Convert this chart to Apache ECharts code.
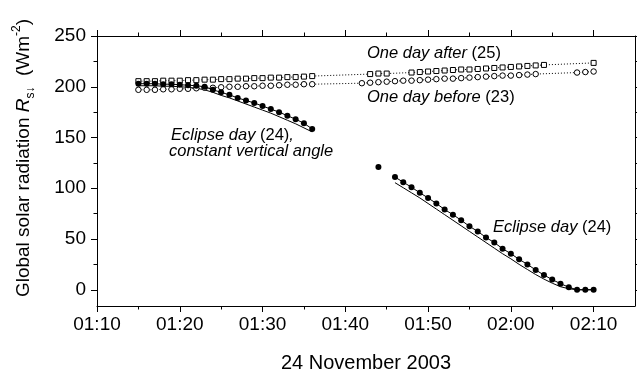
<!DOCTYPE html>
<html><head><meta charset="utf-8">
<script src="https://cdn.jsdelivr.net/npm/echarts@6/dist/echarts.min.js"></script>
<style>html,body{margin:0;padding:0;background:#fff}#c{width:637px;height:376px}</style>
</head><body><div id="c"></div>
<script>
// ---- tick labels ----
const xTickLabels = ['01:10','01:20','01:30','01:40','01:50','02:00','02:10'];
const xMinorTickLabels = ['01:15','01:25','01:35','01:45','01:55','02:05'];
const yTickValues = [0, 50, 100, 150, 200, 250];
const yMinorTickValues = [25, 75, 125, 175, 225];

// ---- Eclipse day (24), measured ----
const eclipseTimesA = ['01:15','01:16','01:17','01:18','01:19','01:20','01:21','01:22','01:23','01:24','01:25','01:26','01:27','01:28','01:29','01:30','01:31','01:32','01:33','01:34','01:35','01:36'];
const eclipseValuesA = [203, 203, 203, 202.5, 202.5, 202, 201.5, 201, 200, 197, 194.5, 192, 189, 186.5, 184, 181, 178, 175, 171.5, 168, 164, 158.5];
const eclipseTimesB = ['01:44'];
const eclipseValuesB = [121];
const eclipseTimesC = ['01:46','01:47','01:48','01:49','01:50','01:51','01:52','01:53','01:54','01:55','01:56','01:57','01:58','01:59','02:00','02:01','02:02','02:03','02:04','02:05','02:06','02:07','02:08','02:09','02:10'];
const eclipseValuesC = [111, 106, 101, 95.5, 90.5, 85, 79, 74, 68.5, 62.5, 57.5, 51.5, 46.5, 40.5, 35.5, 30, 25, 19.5, 14.5, 10, 6, 2.5, 0, 0, 0];

// ---- Model lines (solid) ----
const modelTimesA = eclipseTimesA;
const modelValuesA = [201, 201, 201, 200.5, 200.5, 200, 199.5, 198.5, 197, 194.5, 191.5, 189, 186, 183, 180, 177, 174, 170.5, 167, 163.5, 159.5, 155.5];
const modelTimesC = eclipseTimesC;
const modelValuesC = [105.5, 100.5, 95.5, 90.5, 85, 79.5, 74, 68.5, 63, 57.5, 52, 46.5, 41, 35.5, 30.5, 25, 20, 15, 10.5, 6.5, 3, 1, 0, 0, 0];

// ---- One day before (23) ----
const beforeTimes = ['01:15','01:16','01:17','01:18','01:19','01:20','01:21','01:22','01:23','01:24','01:25','01:26','01:27','01:28','01:29','01:30','01:31','01:32','01:33','01:34','01:35','01:36',
  '01:42','01:43','01:44','01:45','01:46','01:47','01:48','01:49','01:50','01:51','01:52','01:53','01:54','01:55','01:56','01:57','01:58','01:59','02:00','02:01','02:02','02:03',
  '02:08','02:09','02:10'];
const beforeValues = [197, 197, 197, 197.5, 197.5, 198, 198, 198.5, 199, 199, 199.5, 200, 200, 200.5, 200.5, 201, 201, 201.5, 202, 202, 202.5, 202.5,
  203.5, 204, 204.5, 205, 205.5, 206, 206, 206.5, 207, 207.5, 208, 208, 208.5, 209, 209.5, 210, 210.5, 211, 211, 211.5, 212, 212.5,
  214, 214.5, 215];

// ---- One day after (25) ----
const afterTimes = ['01:15','01:16','01:17','01:18','01:19','01:20','01:21','01:22','01:23','01:24','01:25','01:26','01:27','01:28','01:29','01:30','01:31','01:32','01:33','01:34','01:35','01:36',
  '01:43','01:44','01:45',
  '01:48','01:49','01:50','01:51','01:52','01:53','01:54','01:55','01:56','01:57','01:58','01:59','02:00','02:01','02:02','02:03','02:04',
  '02:10'];
const afterValues = [205.5, 205.5, 205.5, 206, 206, 206, 206.5, 206.5, 207, 207, 207.5, 207.5, 208, 208, 208.5, 208.5, 209, 209, 209.5, 209.5, 210, 210.5,
  212.5, 213, 213,
  214, 214.5, 215, 215.5, 216, 216.5, 217, 217, 217.5, 218, 218.5, 219, 219.5, 220, 220.5, 221, 221.5,
  223.5];

// ---- helpers ----
function toMin(s){ const p = s.split(':'); return Number(p[0]) * 60 + Number(p[1]); }
function pairs(times, vals){ return times.map((t, i) => [toMin(t), vals[i]]); }
const labelByMin = {};
xTickLabels.forEach(l => { labelByMin[toMin(l)] = l; });
const xMajor = xTickLabels.map(toMin);
const xMinor = xMinorTickLabels.map(toMin);

const F = '"Liberation Sans", Arial, Helvetica, sans-serif';
const BLACK = '#000';
const X_MIN = 70, X_MAX = 135, Y_MIN = -16, Y_MAX = 250;

function xAx(pos, major, withLabels){
  return {
    type: 'value', position: pos, min: X_MIN, max: X_MAX,
    axisLine: { show: major, onZero: false, lineStyle: { color: BLACK, width: 1 } },
    axisTick: { show: true, inside: false, length: major ? 6 : 3.5, customValues: major ? xMajor : xMinor, lineStyle: { color: BLACK, width: 1 } },
    axisLabel: withLabels ? { show: true, customValues: xMajor, formatter: v => labelByMin[v] || '', fontSize: 19, color: BLACK, fontFamily: F, margin: 9 } : { show: false },
    splitLine: { show: false }
  };
}
function yAx(pos, major, withLabels){
  return {
    type: 'value', position: pos, min: Y_MIN, max: Y_MAX,
    axisLine: { show: major, onZero: false, lineStyle: { color: BLACK, width: 1 } },
    axisTick: { show: true, inside: false, length: major ? 6 : 3.5, customValues: major ? yTickValues : yMinorTickValues, lineStyle: { color: BLACK, width: 1 } },
    axisLabel: withLabels ? { show: true, customValues: yTickValues, fontSize: 19, color: BLACK, fontFamily: F, margin: 11 } : { show: false },
    splitLine: { show: false }
  };
}

const chart = echarts.init(document.getElementById('c'), null, { renderer: 'canvas' });
const annot = { fontSize: 16.5, fontFamily: F, fill: BLACK };
chart.setOption({
  animation: false,
  backgroundColor: '#fff',
  textStyle: { fontFamily: F },
  grid: { left: 97, top: 36, width: 538, height: 270, containLabel: false },
  xAxis: [ xAx('bottom', true, true), xAx('bottom', false, false), xAx('top', true, false), xAx('top', false, false) ],
  yAxis: [ yAx('left', true, true), yAx('left', false, false), yAx('right', true, false), yAx('right', false, false) ],
  series: [
    { name: 'model A', type: 'line', data: pairs(modelTimesA, modelValuesA), symbol: 'none', lineStyle: { color: BLACK, width: 1 }, z: 2 },
    { name: 'model C', type: 'line', data: pairs(modelTimesC, modelValuesC), symbol: 'none', lineStyle: { color: BLACK, width: 1 }, z: 2 },
    { name: 'One day after (25)', type: 'line', data: pairs(afterTimes, afterValues), symbol: 'rect', symbolSize: 5, showAllSymbol: true,
      lineStyle: { color: BLACK, width: 1, type: [1, 2] }, itemStyle: { color: '#fff', borderColor: BLACK, borderWidth: 1 }, z: 3 },
    { name: 'One day before (23)', type: 'line', data: pairs(beforeTimes, beforeValues), symbol: 'circle', symbolSize: 5.5, showAllSymbol: true,
      lineStyle: { color: BLACK, width: 1, type: [1, 2] }, itemStyle: { color: '#fff', borderColor: BLACK, borderWidth: 1 }, z: 3 },
    { name: 'Eclipse A', type: 'line', data: pairs(eclipseTimesA, eclipseValuesA), symbol: 'circle', symbolSize: 6, showAllSymbol: true,
      lineStyle: { color: BLACK, width: 1 }, itemStyle: { color: BLACK }, z: 4 },
    { name: 'Eclipse B', type: 'line', data: pairs(eclipseTimesB, eclipseValuesB), symbol: 'circle', symbolSize: 6, showAllSymbol: true,
      lineStyle: { color: BLACK, width: 1 }, itemStyle: { color: BLACK }, z: 4 },
    { name: 'Eclipse C', type: 'line', data: pairs(eclipseTimesC, eclipseValuesC), symbol: 'circle', symbolSize: 6, showAllSymbol: true,
      lineStyle: { color: BLACK, width: 1 }, itemStyle: { color: BLACK }, z: 4 }
  ],
  graphic: [
    { type: 'text', x: 366, y: 363, style: { text: '24 November 2003', fontSize: 20, fontFamily: F, fill: BLACK, align: 'center', verticalAlign: 'middle' } },
    { type: 'text', x: 24, y: 158, rotation: Math.PI / 2,
      style: { text: '{n|Global solar radiation }{i|R}{sub|s\u2193}{n|  (Wm}{sup|-2}{n|)}', align: 'center', verticalAlign: 'middle', fill: BLACK,
        rich: {
          n: { fontSize: 19, fontFamily: F, lineHeight: 26, fill: BLACK },
          i: { fontSize: 19, fontFamily: F, fontStyle: 'italic', lineHeight: 26, fill: BLACK },
          sub: { fontSize: 12, fontFamily: F, lineHeight: 12, verticalAlign: 'bottom', fill: BLACK },
          sup: { fontSize: 12, fontFamily: F, lineHeight: 12, verticalAlign: 'top', fill: BLACK }
        } } },
    { type: 'text', x: 367, y: 53, style: { text: '{i|One day after }{n|(25)}', verticalAlign: 'middle', fill: BLACK,
        rich: { i: Object.assign({ fontStyle: 'italic' }, annot), n: annot } } },
    { type: 'text', x: 367, y: 97, style: { text: '{i|One day before }{n|(23)}', verticalAlign: 'middle', fill: BLACK,
        rich: { i: Object.assign({ fontStyle: 'italic' }, annot), n: annot } } },
    { type: 'text', x: 171, y: 135, style: { text: '{i|Eclipse day }{n|(24)}{i|,}', verticalAlign: 'middle', fill: BLACK,
        rich: { i: Object.assign({ fontStyle: 'italic' }, annot), n: annot } } },
    { type: 'text', x: 169, y: 151, style: { text: 'constant vertical angle', verticalAlign: 'middle', fill: BLACK, fontStyle: 'italic', fontSize: 16.5, fontFamily: F } },
    { type: 'text', x: 493, y: 227, style: { text: '{i|Eclipse day }{n|(24)}', verticalAlign: 'middle', fill: BLACK,
        rich: { i: Object.assign({ fontStyle: 'italic' }, annot), n: annot } } }
  ]
});
</script>
</body></html>
